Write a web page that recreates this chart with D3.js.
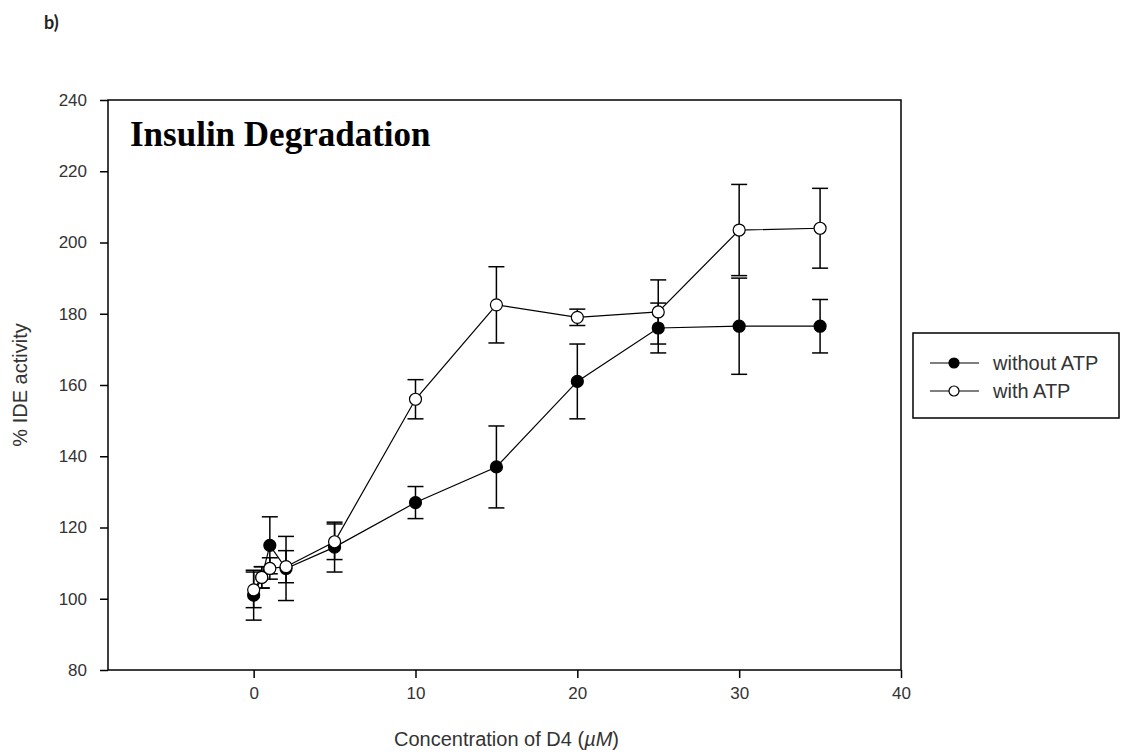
<!DOCTYPE html>
<html>
<head>
<meta charset="utf-8">
<script src="https://cdn.jsdelivr.net/npm/d3@7"></script>
<style>
  body { margin: 0; background: #fff; }
  svg { display: block; }
</style>
</head>
<body>
<div id="chart"></div>
<script>
// Data
var conc = [0, 0.5, 1, 2, 5, 10, 15, 20, 25, 30, 35];
var withoutATP = [101, 106, 115, 108.5, 114.5, 127, 137, 161, 176, 176.5, 176.5];
var withoutATPErr = [7, 3, 8, 9, 7, 4.5, 11.5, 10.5, 7, 13.5, 7.5];
var withATP = [102.5, 106, 108.5, 109, 116, 156, 182.5, 179, 180.5, 203.5, 204];
var withATPErr = [5, 3, 3, 4.5, 5, 5.5, 10.7, 2.3, 9, 12.8, 11.2];
var xTicks = [0, 10, 20, 30, 40];
var yTicks = [80, 100, 120, 140, 160, 180, 200, 220, 240];
var seriesNames = ["without ATP", "with ATP"];

var W = 1123, H = 755;
var box = {left: 108, top: 100, right: 901, bottom: 670};

var svg = d3.select("#chart").append("svg")
    .attr("width", W)
    .attr("height", H);

// Scales
var xScale = d3.scaleLinear().domain([-9, 40]).range([box.left, box.right]);
var yScale = d3.scaleLinear().domain([80, 240]).range([box.bottom, box.top]);

// panel label
svg.append("text")
    .attr("x", 44).attr("y", 29)
    .style("font-family", "Lato, 'Open Sans', sans-serif")
    .style("font-weight", "bold")
    .style("font-size", "18px")
    .style("fill", "#222")
    .text("b)");

// Axes
var xAxis = d3.axisBottom(xScale).tickValues(xTicks).tickSizeInner(8).tickSizeOuter(0).tickPadding(9);
var yAxis = d3.axisLeft(yScale).tickValues(yTicks).tickSizeInner(8).tickSizeOuter(0).tickPadding(13);

var gx = svg.append("g")
    .attr("transform", "translate(0," + box.bottom + ")")
    .call(xAxis);
var gy = svg.append("g")
    .attr("transform", "translate(" + box.left + ",0)")
    .call(yAxis);

[gx, gy].forEach(function(g) {
    g.select(".domain").remove();
    g.selectAll(".tick line").attr("stroke", "#000").attr("stroke-width", 1.5);
    g.selectAll(".tick text")
        .style("font-family", "'Liberation Sans', Arial, sans-serif")
        .style("font-size", "17px")
        .style("fill", "#333");
});

// frame
svg.append("rect")
    .attr("x", box.left).attr("y", box.top)
    .attr("width", box.right - box.left)
    .attr("height", box.bottom - box.top)
    .attr("fill", "none")
    .attr("stroke", "#000")
    .attr("stroke-width", 1.5);

// Axis labels
svg.append("text")
    .attr("transform", "translate(27," + ((box.top + box.bottom) / 2) + ")rotate(-90)")
    .style("text-anchor", "middle")
    .style("font-family", "'Liberation Sans', Arial, sans-serif")
    .style("font-size", "20px")
    .style("fill", "#333")
    .text("% IDE activity");

var xl = svg.append("text")
    .attr("x", (box.left + box.right) / 2 + 2)
    .attr("y", 746)
    .style("text-anchor", "middle")
    .style("font-family", "'Liberation Sans', Arial, sans-serif")
    .style("font-size", "20px")
    .style("fill", "#333");
xl.append("tspan").text("Concentration of D4 (");
xl.append("tspan").style("font-style", "italic").text("\u00b5M");
xl.append("tspan").text(")");

// Title
svg.append("text")
    .attr("x", 130).attr("y", 146)
    .style("font-family", "'Liberation Serif', 'Times New Roman', serif")
    .style("font-weight", "bold")
    .style("font-size", "35px")
    .style("fill", "#000")
    .text("Insulin Degradation");

// Build series
var series = [
    {name: seriesNames[0], vals: withoutATP, errs: withoutATPErr, fill: "#000"},
    {name: seriesNames[1], vals: withATP, errs: withATPErr, fill: "#fff"}
];
series.forEach(function(s) {
    s.points = conc.map(function(c, i) { return {x: c, y: s.vals[i], e: s.errs[i]}; });
});

var line = d3.line()
    .x(function(d) { return xScale(d.x); })
    .y(function(d) { return yScale(d.y); });

var plot = svg.append("g");

// error bars
series.forEach(function(s) {
    var eb = plot.append("g").selectAll("g")
        .data(s.points)
        .enter().append("g")
        .attr("stroke", "#000")
        .attr("stroke-width", 1.5);
    eb.append("line")
        .attr("x1", function(d) { return xScale(d.x); })
        .attr("x2", function(d) { return xScale(d.x); })
        .attr("y1", function(d) { return yScale(d.y - d.e); })
        .attr("y2", function(d) { return yScale(d.y + d.e); });
    [-1, 1].forEach(function(sg) {
        eb.append("line")
            .attr("x1", function(d) { return xScale(d.x) - 8; })
            .attr("x2", function(d) { return xScale(d.x) + 8; })
            .attr("y1", function(d) { return yScale(d.y + sg * d.e); })
            .attr("y2", function(d) { return yScale(d.y + sg * d.e); });
    });
});

// lines
series.forEach(function(s) {
    plot.append("path")
        .datum(s.points)
        .attr("d", line)
        .attr("fill", "none")
        .attr("stroke", "#000")
        .attr("stroke-width", 1.2);
});

// markers
series.forEach(function(s) {
    plot.append("g").selectAll("circle")
        .data(s.points)
        .enter().append("circle")
        .attr("cx", function(d) { return xScale(d.x); })
        .attr("cy", function(d) { return yScale(d.y); })
        .attr("r", 6)
        .attr("fill", s.fill)
        .attr("stroke", "#000")
        .attr("stroke-width", 1.2);
});

// Legend
var legend = svg.append("g").attr("transform", "translate(913,333)");
legend.append("rect")
    .attr("width", 206).attr("height", 85)
    .attr("fill", "#fff")
    .attr("stroke", "#000")
    .attr("stroke-width", 1.5);
var li = legend.selectAll("g.item")
    .data(series)
    .enter().append("g")
    .attr("class", "item")
    .attr("transform", function(d, i) { return "translate(0," + (30 + i * 28) + ")"; });
li.append("line")
    .attr("x1", 17).attr("x2", 66)
    .attr("stroke", "#000").attr("stroke-width", 1.2);
li.append("circle")
    .attr("cx", 41).attr("r", 5)
    .attr("fill", function(d) { return d.fill; })
    .attr("stroke", "#000").attr("stroke-width", 1.2);
li.append("text")
    .attr("x", 80).attr("y", 7)
    .style("font-family", "'Liberation Sans', Arial, sans-serif")
    .style("font-size", "20px")
    .style("fill", "#333")
    .text(function(d) { return d.name; });
</script>
</body>
</html>
